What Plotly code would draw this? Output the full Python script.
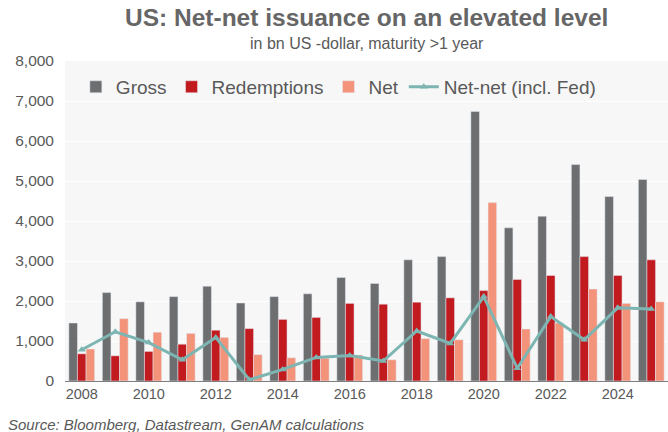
import plotly.graph_objects as go

years = list(range(2008, 2026))
gross = [1450, 2210, 1980, 2110, 2370, 1950, 2110, 2180, 2590, 2440, 3030, 3110, 6740, 3830, 4120, 5410, 4610, 5040]
redemptions = [680, 630, 740, 920, 1270, 1310, 1540, 1590, 1940, 1920, 1970, 2080, 2260, 2540, 2640, 3110, 2640, 3030]
net = [800, 1560, 1220, 1190, 1090, 660, 580, 570, 650, 530, 1060, 1030, 4460, 1300, 1450, 2300, 1940, 1980]
net_net = [780, 1230, 960, 530, 1090, 30, 290, 590, 640, 500, 1250, 940, 2110, 320, 1610, 1030, 1830, 1800]

fig = go.Figure()
fig.add_trace(go.Bar(x=years, y=gross, name="Gross", marker_color="#6D6E70"))
fig.add_trace(go.Bar(x=years, y=redemptions, name="Redemptions", marker_color="#C11B1F"))
fig.add_trace(go.Bar(x=years, y=net, name="Net", marker_color="#F3937A"))
fig.add_trace(go.Scatter(x=years, y=net_net, name="Net-net (incl. Fed)", mode="lines+markers",
                         line=dict(color="#7CB5B2", width=3),
                         marker=dict(symbol="triangle-up", size=7, color="#7CB5B2")))

fig.update_layout(
    width=668, height=432,
    margin=dict(l=65, r=0, t=61, b=51),
    paper_bgcolor="white",
    plot_bgcolor="#F7F7F7",
    font=dict(family="Liberation Sans, Arial", color="#595959", size=14),
    barmode="group", bargap=0.23, bargroupgap=0,
    legend=dict(orientation="h", x=0.018, y=0.919, xanchor="left", yanchor="middle",
                font=dict(size=19), bgcolor="rgba(0,0,0,0)", itemwidth=30),
)

# title, subtitle and source note
fig.add_annotation(text="<b>US: Net-net issuance on an elevated level</b>", x=0.5, y=1, xref="x domain",
                   yref="paper", yanchor="middle", yshift=44, showarrow=False,
                   font=dict(size=24.5, color="#666666"))
fig.add_annotation(text="in bn US -dollar, maturity >1 year", x=0.5, y=1, xref="x domain", yref="paper",
                   yanchor="middle", yshift=18, showarrow=False, font=dict(size=16, color="#595959"))
fig.add_annotation(text="<i>Source: Bloomberg, Datastream, GenAM calculations</i>", x=-65 / 603, y=0,
                   xref="paper", yref="paper", xanchor="left", yanchor="middle", yshift=-43, xshift=6,
                   showarrow=False, font=dict(size=15, color="#595959"))

fig.update_xaxes(tickvals=list(range(2008, 2026, 2)), range=[2007.5, 2025.5], showgrid=False,
                 ticks="", tickfont=dict(size=14.5), showline=True, linecolor="#7F7F7F", linewidth=1)
fig.update_yaxes(range=[0, 8000], dtick=1000, tickformat=",", showgrid=True, gridcolor="white",
                 gridwidth=1, zeroline=False, ticks="", tickfont=dict(size=15.5), ticklabelstandoff=10)

fig.write_html("out.html", config={"displayModeBar": False},
               post_script="document.body.style.margin='0';")
